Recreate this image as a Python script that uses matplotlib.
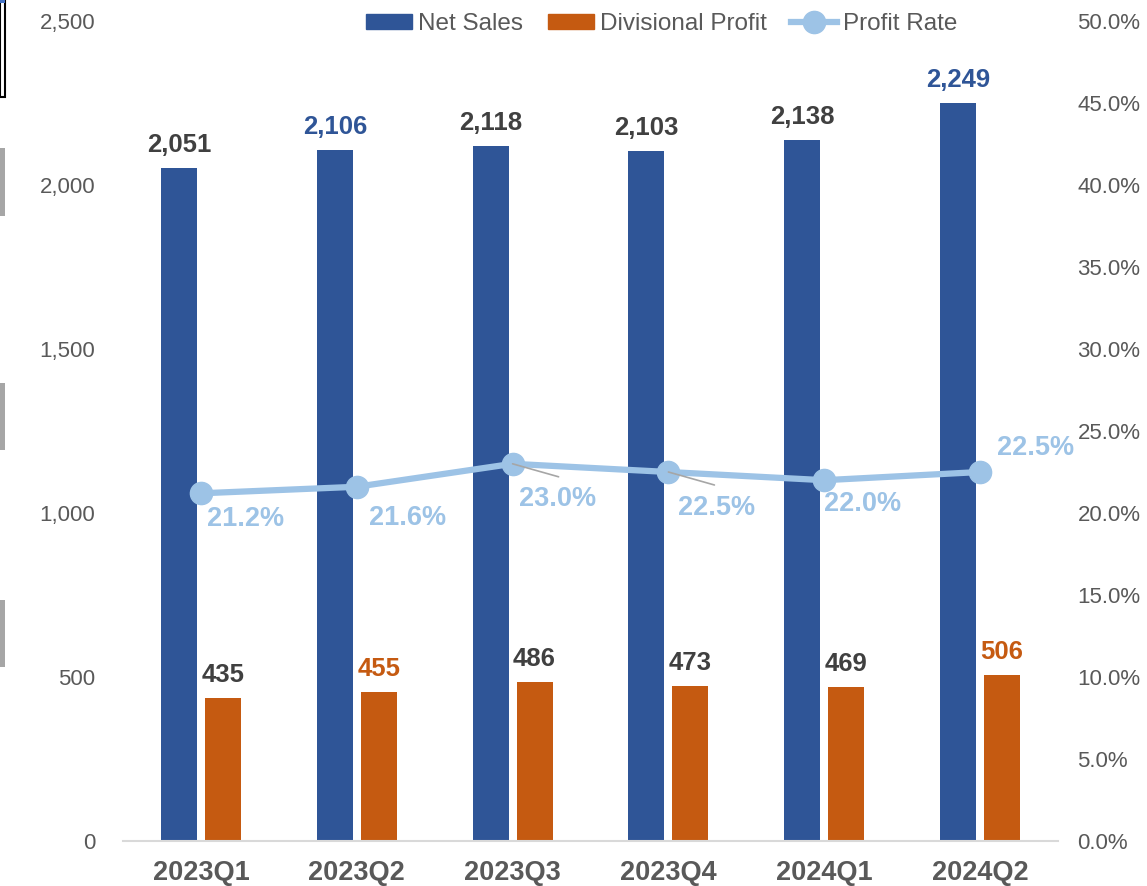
import matplotlib
matplotlib.use("Agg")
import matplotlib.pyplot as plt
from matplotlib.patches import Rectangle
from matplotlib.lines import Line2D
import numpy as np

plt.rcParams['font.family'] = ['Liberation Sans', 'DejaVu Sans']

quarters = ["2023Q1", "2023Q2", "2023Q3", "2023Q4", "2024Q1", "2024Q2"]
net_sales = [2051, 2106, 2118, 2103, 2138, 2249]
div_profit = [435, 455, 486, 473, 469, 506]
profit_rate = [21.2, 21.6, 23.0, 22.5, 22.0, 22.5]

left_ticks = [0, 500, 1000, 1500, 2000, 2500]
right_ticks = [0, 5, 10, 15, 20, 25, 30, 35, 40, 45, 50]

BLUE = "#2F5597"
ORANGE = "#C55A11"
LIGHT = "#9DC3E6"
GRAY_TXT = "#595959"
DARK_TXT = "#404040"

# label colours: highlighted quarters use the series colour
sales_lbl_colors = [DARK_TXT, BLUE, DARK_TXT, DARK_TXT, DARK_TXT, BLUE]
profit_lbl_colors = [DARK_TXT, ORANGE, DARK_TXT, DARK_TXT, DARK_TXT, ORANGE]
# rate label offsets (px right, px down) and whether a leader line is drawn
rate_offsets = [(45, 26), (51, 31), (45, 35), (48, 36), (38, 24), (55, -24)]
rate_leaders = [False, False, True, True, False, False]

W, H = 1147, 886
fig = plt.figure(figsize=(W / 100, H / 100), dpi=100)
ax_l, ax_r, ax_b, ax_t = 123, 1058, 841, 21
ax = fig.add_axes([ax_l / W, 1 - ax_b / H, (ax_r - ax_l) / W, (ax_b - ax_t) / H])
ax2 = ax.twinx()

x = np.arange(len(quarters))
bw = 0.231
off = 0.141
ax.bar(x - off, net_sales, bw, color=BLUE, zorder=2)
ax.bar(x + off, div_profit, bw, color=ORANGE, zorder=2)
ax.set_xlim(-0.5, len(quarters) - 0.5)
ax.set_ylim(0, 2500)
ax.set_yticks(left_ticks)
ax.set_yticklabels([f"{v:,}" for v in left_ticks])
ax.tick_params(axis='y', length=0, pad=20, labelsize=16, labelcolor=GRAY_TXT)
ax.set_xticks(x)
ax.set_xticklabels(quarters, fontsize=19.5, fontweight='bold', color=GRAY_TXT)
ax.tick_params(axis='x', length=0, pad=14)
for s in ["top", "right", "left"]:
    ax.spines[s].set_visible(False)
ax.spines["bottom"].set_color("#D9D9D9")
ax.spines["bottom"].set_linewidth(1.5)

for xi, v, c in zip(x, net_sales, sales_lbl_colors):
    ax.annotate(f"{v:,}", (xi - off, v), xytext=(0, 16.5), textcoords="offset points",
                ha="center", va="center", fontsize=18.5, fontweight="bold", color=c)
for xi, v, c in zip(x, div_profit, profit_lbl_colors):
    ax.annotate(f"{v:,}", (xi + off, v), xytext=(0, 16.5), textcoords="offset points",
                ha="center", va="center", fontsize=18.5, fontweight="bold", color=c)

ax2.plot(x, profit_rate, color=LIGHT, lw=4.5, marker="o", ms=16, zorder=3)
ax2.set_ylim(0, 50)
ax2.set_yticks(right_ticks)
ax2.set_yticklabels([f"{v:.1f}%" for v in right_ticks])
ax2.tick_params(axis='y', length=0, pad=14, labelsize=16, labelcolor=GRAY_TXT)
for s in ["top", "right", "left", "bottom"]:
    ax2.spines[s].set_visible(False)

for xi, v, (dx, dy), lead in zip(x, profit_rate, rate_offsets, rate_leaders):
    ax2.annotate(f"{v:.1f}%", (xi, v), xytext=(dx * 0.72, -dy * 0.72),
                 textcoords="offset points", ha="center", va="center",
                 fontsize=19.5, fontweight="bold", color=LIGHT, zorder=4)
    if lead:
        ax2.annotate("", (xi, v), xytext=(46 * 0.72, -13 * 0.72),
                     textcoords="offset points",
                     arrowprops=dict(arrowstyle="-", color="#A6A6A6", lw=1.2,
                                     shrinkA=0, shrinkB=0), zorder=4)

handles = [
    Rectangle((0, 0), 1, 1, color=BLUE),
    Rectangle((0, 0), 1, 1, color=ORANGE),
    Line2D([0], [0], color=LIGHT, lw=4.5, marker="o", ms=16),
]
fig.legend(handles, ["Net Sales", "Divisional Profit", "Profit Rate"],
           loc="center", bbox_to_anchor=(662 / W, 1 - 24 / H), ncol=3, frameon=False,
           fontsize=17.5, labelcolor=GRAY_TXT, handlelength=1.9, handleheight=0.6,
           handletextpad=0.25, columnspacing=1.0, borderpad=0)

# edge marks along the left border
fig.patches.append(Rectangle((0, 1 - 97 / H), 5 / W, 97 / H, transform=fig.transFigure,
                             facecolor="white", edgecolor="black", lw=1.5))
fig.patches.append(Rectangle((0, 1 - 3 / H), 5 / W, 3 / H, transform=fig.transFigure,
                             facecolor="#4472C4", edgecolor="none"))
for y0, y1 in [(148, 216), (383, 450), (600, 667)]:
    fig.patches.append(Rectangle((0, 1 - y1 / H), 5 / W, (y1 - y0) / H,
                                 transform=fig.transFigure, facecolor="#A6A6A6",
                                 edgecolor="none"))

fig.savefig("out.png", dpi=100)
